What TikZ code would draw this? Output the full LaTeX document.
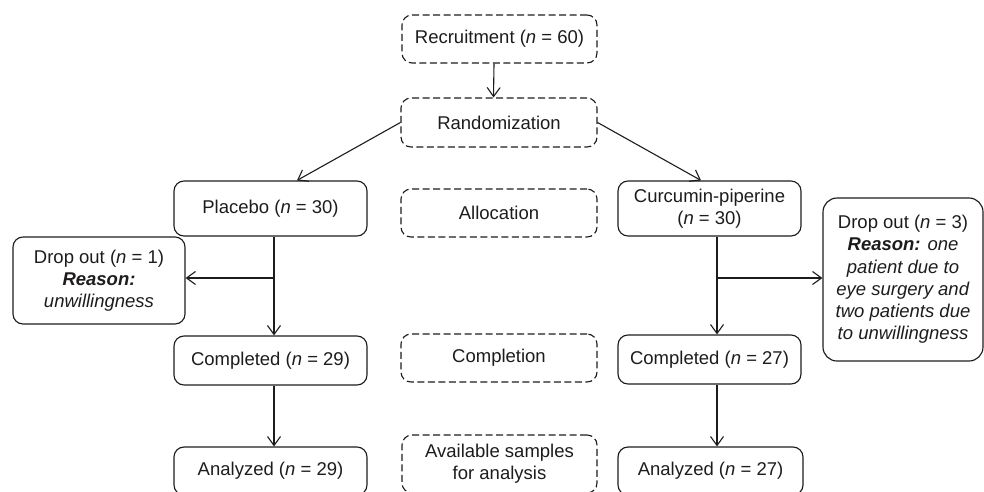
\documentclass[tikz,border=0pt]{standalone}
\usepackage{fontspec}
\setmainfont{Liberation Sans}
\usetikzlibrary{arrows.meta}
\definecolor{ink}{RGB}{30,27,28}
\begin{document}
\begin{tikzpicture}[x=1pt,y=-1pt,
  font=\fontsize{18.5}{22.2}\selectfont,
  box/.style={draw=ink, line width=1.15pt, rounded corners=10pt, inner sep=0pt, align=center, text=ink},
  dbox/.style={box, dash pattern=on 7pt off 3.5pt},
  arr/.style={draw=ink, line width=1.1pt, -{Straight Barb[length=9pt,width=13pt]}}]
\useasboundingbox (0,0) rectangle (984,491);
\clip (0,0) rectangle (984,491);
% dashed stage boxes
\node[dbox, minimum width=195pt, minimum height=48pt] (rec) at (499.5,39) {Recruitment (\textit{n} = 60)};
\node[dbox, minimum width=196pt, minimum height=49pt] (rand) at (499,122.5) {Randomization};
\node[dbox, minimum width=196pt, minimum height=48pt] (alloc) at (499,213) {Allocation};
\node[dbox, minimum width=196pt, minimum height=48pt] (compl) at (499,358) {Completion};
\node[dbox, minimum width=195pt, minimum height=58pt] (avail) at (499.5,464) {Available samples\\for analysis};
% arms
\node[box, minimum width=193pt, minimum height=55pt] (plac) at (270.5,208.5) {Placebo (\textit{n} = 30)};
\node[box, minimum width=183pt, minimum height=55pt] (curc) at (709.5,208.5) {Curcumin-piperine\\(\textit{n} = 30)};
\node[box, minimum width=193pt, minimum height=49pt] (c1) at (270.5,360.5) {Completed (\textit{n} = 29)};
\node[box, minimum width=183pt, minimum height=49pt] (c2) at (709.5,359.5) {Completed (\textit{n} = 27)};
\node[box, minimum width=193pt, minimum height=48pt] (a1) at (270.5,471) {Analyzed (\textit{n} = 29)};
\node[box, minimum width=185pt, minimum height=48pt] (a2) at (710.5,471) {Analyzed (\textit{n} = 27)};
% drop outs
\node[box, minimum width=172pt, minimum height=87pt] (d1) at (99,280.5) {Drop out (\textit{n} = 1)\\\textbf{\textit{Reason:}}\\\textit{unwillingness}};
\node[box, rounded corners=14pt, minimum width=160pt, minimum height=163pt] (d2) at (903,279.5) {Drop out (\textit{n} = 3)\\\textbf{\textit{Reason:}} \textit{one}\\\textit{patient due to}\\\textit{eye surgery and}\\\textit{two patients due}\\\textit{to unwillingness}};
% connectors
\draw[arr] ([xshift=-5.5pt]rec.south) -- ([xshift=-5.5pt]rand.north);
\draw[arr] (rand.west) -- ([xshift=26.5pt]plac.north);
\draw[arr] (rand.east) -- ([xshift=-8.5pt]curc.north);
\coordinate (b1) at (274,278);
\coordinate (b2) at (717,278);
\draw[arr] (plac.south -| b1) -- (c1.north -| b1);
\draw[arr] (b1) -- (b1 -| d1.east);
\draw[arr] (c1.south -| b1) -- (a1.north -| b1);
\draw[arr] (curc.south -| b2) -- (c2.north -| b2);
\draw[arr] (b2) -- (b2 -| d2.west);
\draw[arr] (c2.south -| b2) -- (a2.north -| b2);
\end{tikzpicture}
\end{document}
